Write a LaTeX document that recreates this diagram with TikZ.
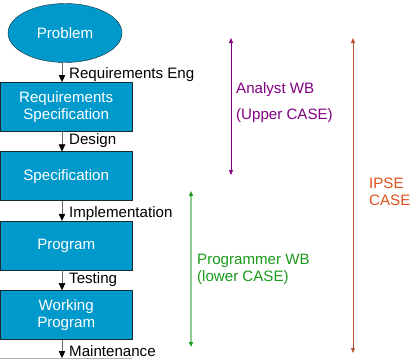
\documentclass[tikz,border=0pt]{standalone}
\usepackage{fontspec}
\setmainfont{Liberation Sans}
\usepackage{xcolor}
\usetikzlibrary{arrows.meta,positioning,shapes.geometric}
\definecolor{casblue}{HTML}{0099CC}
\definecolor{casedge}{HTML}{1A2A33}
\definecolor{caspurple}{HTML}{800080}
\definecolor{casgreen}{HTML}{1A9A1A}
\definecolor{casgreenl}{HTML}{8FCC8F}
\definecolor{casrust}{HTML}{B5532E}
\definecolor{casorange}{HTML}{E0501C}
\tikzset{
  stage/.style={draw=casedge,fill=casblue,text=white,align=center,minimum width=132pt,minimum height=49pt,inner sep=0pt},
  start/.style={ellipse,stage,minimum width=114pt,minimum height=59pt},
  ar/.style={-{Triangle[length=7pt,width=6.5pt,color=black]},draw=gray!80!black,thin},
  lbl/.style={right,inner sep=0pt,xshift=7pt,text=black},
  span/.style={{Triangle[length=5pt,width=4pt]}-{Triangle[length=5pt,width=4pt]},line width=0.9pt},
  note/.style={anchor=west,inner sep=0pt},
}
\begin{document}
\begin{tikzpicture}[x=1pt,y=-1pt,font=\fontsize{15.1}{17}\selectfont]
  \useasboundingbox (0,0) rectangle (411,360);
  % flow of stages
  \node[start] (prob) at (65,33) {Problem};
  \node[stage,anchor=north west] (req) at (0,82) {Requirements\\Specification};
  \node[stage,below=20pt of req] (spec) {Specification};
  \node[stage,below=20pt of spec] (prog) {Program};
  \node[stage,below=20pt of prog] (work) {Working\\Program};
  \coordinate (endm) at (62,358);
  \draw[ar] (prob.south -| endm) -- node[lbl,pos=.62]{Requirements Eng} (req.north -| endm);
  \draw[ar] (req.south -| endm) -- node[lbl,pos=.45]{Design} (spec.north -| endm);
  \draw[ar] (spec.south -| endm) -- node[lbl,pos=.62]{Implementation} (prog.north -| endm);
  \draw[ar] (prog.south -| endm) -- node[lbl,pos=.45]{Testing} (work.north -| endm);
  \draw[ar] (work.south -| endm) -- node[lbl,pos=.62]{Maintenance} (endm);
  \draw[gray!60] (0,358.5) -- (132,358.5);
  % tool spans
  \coordinate (aT) at (231,38); \coordinate (aB) at (231,175);
  \coordinate (iT) at (353,38); \coordinate (iB) at (353,353);
  \coordinate (pT) at (191,191); \coordinate (pB) at (191,347);
  \draw[span,caspurple] (aT) -- (aB);
  \draw[span,casrust] (iT) -- (iB);
  \draw[span,casgreenl,line width=1.3pt,{Triangle[length=5pt,width=4pt,color=casgreen]}-{Triangle[length=5pt,width=4pt,color=casgreen]}] (pT) -- (pB);
  \node[note,text=caspurple] (awb) at (236,90) {Analyst WB};
  \node[note,text=caspurple] (acase) at (236,116) {(Upper CASE)};
  \node[note,text=casorange,align=left] (ipse) at (369,191.5) {IPSE\\CASE};
  \node[note,text=casgreen,align=left] (pwb) at (197,269) {Programmer WB\\(lower CASE)};
\end{tikzpicture}
\end{document}
